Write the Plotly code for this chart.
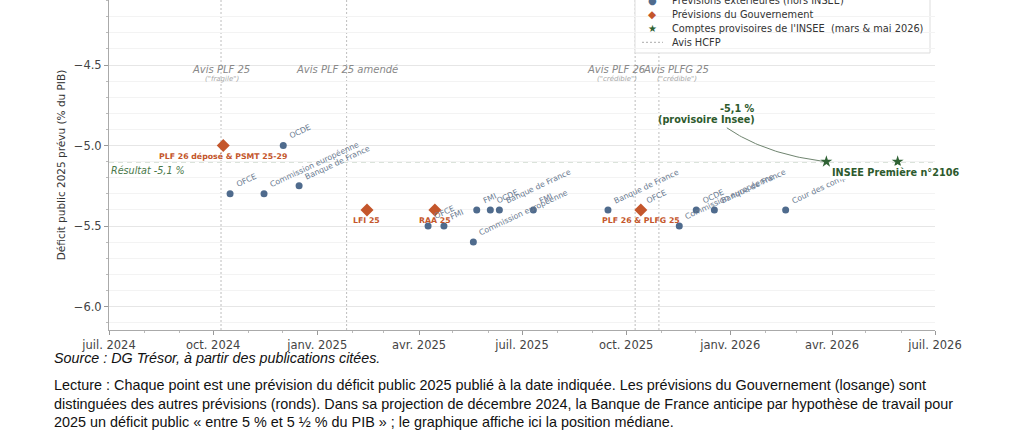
import numpy as np
import pandas as pd
import plotly.graph_objects as go

# ---------------- Data ----------------
ext_dates = ["2024-10-16", "2024-11-15", "2024-12-02", "2024-12-16",
             "2025-04-09", "2025-04-23", "2025-05-19", "2025-05-22",
             "2025-06-03", "2025-06-11", "2025-07-11", "2025-09-15",
             "2025-10-14", "2025-11-17", "2025-12-02", "2025-12-18",
             "2026-02-19"]
ext_values = [-5.3, -5.3, -5.0, -5.25,
              -5.5, -5.5, -5.6, -5.4,
              -5.4, -5.4, -5.4, -5.4,
              -5.4, -5.5, -5.4, -5.4,
              -5.4]
ext_labels = ["OFCE", "Commission européenne", "OCDE", "Banque de France",
              "OFCE", "FMI", "Commission européenne", "FMI",
              "OCDE", "Banque de France", "FMI", "Banque de France",
              "OFCE", "Commission européenne", "OCDE", "Banque de France",
              "Cour des comptes"]

gov_dates = ["2024-10-10", "2025-02-14", "2025-04-15", "2025-10-14"]
gov_values = [-5.0, -5.4, -5.4, -5.4]
gov_labels = ["PLF 26 déposé & PSMT 25-29", "LFI 25", "RAA 25", "PLF 26 & PLFG 25"]

insee_dates = ["2026-03-27", "2026-05-29"]
insee_values = [-5.1, -5.1]

hcfp_dates = ["2024-10-08", "2025-01-27", "2025-10-09", "2025-10-30"]
hcfp_labels = ["Avis PLF 25", "Avis PLF 25 amendé", "Avis PLF 26", "Avis PLFG 25"]
hcfp_notes = ['("fragile")', "", '("crédible")', '("crédible")']
hcfp_shift = [0, 0, -19, 17]

result_value = -5.1

tick_vals = ["2024-07-01", "2024-10-01", "2025-01-01", "2025-04-01", "2025-07-01",
             "2025-10-01", "2026-01-01", "2026-04-01", "2026-07-01"]
tick_text = ["juil. 2024", "oct. 2024", "janv. 2025", "avr. 2025", "juil. 2025",
             "oct. 2025", "janv. 2026", "avr. 2026", "juil. 2026"]
minor_vals = [d.strftime("%Y-%m-%d") for d in pd.date_range("2024-07-01", "2026-07-01", freq="MS")]

legend_labels = ["Prévisions extérieures (hors INSEE)", "Prévisions du Gouvernement",
                 "Comptes provisoires de l'INSEE \u00a0(mars & mai 2026)", "Avis HCFP"]

# ---------------- Styles ----------------
C_EXT = "#4f6b8d"
C_EXT_TXT = "#6b7b91"
C_GOV = "#c4562b"
C_INSEE = "#2f6234"
C_INSEE_TXT = "#2d5a2d"
C_HCFP = "#bdbdbd"
FONT = "DejaVu Sans"

L, R, T, B = 109, 89, 0, 112
W, H = 1024, 442
PW, PH = W - L - R, H - T - B


def px2x(px):
    return (px - L) / PW


def py2y(py):
    return (PH - (py - T)) / PH


fig = go.Figure()

# Curved connector from the INSEE label to the first provisional account
x0 = pd.Timestamp("2025-12-29").value
xc = pd.Timestamp("2026-02-02").value
x2 = pd.Timestamp(insee_dates[0]).value
y0c, ycc, y2c = -4.89, -5.058, insee_values[0]
t = np.linspace(0, 1, 40)
cx = (1 - t) ** 2 * x0 + 2 * (1 - t) * t * xc + t ** 2 * x2
cy = (1 - t) ** 2 * y0c + 2 * (1 - t) * t * ycc + t ** 2 * y2c
fig.add_trace(go.Scatter(x=pd.to_datetime(cx), y=cy, mode="lines",
                         line=dict(color="#6f846f", width=1), hoverinfo="skip",
                         showlegend=False))

fig.add_trace(go.Scatter(x=ext_dates, y=ext_values, mode="markers",
                         marker=dict(color=C_EXT, size=7, symbol="circle"),
                         name=legend_labels[0], text=ext_labels, showlegend=False))
fig.add_trace(go.Scatter(x=gov_dates, y=gov_values, mode="markers",
                         marker=dict(color=C_GOV, size=10, symbol="diamond"),
                         name=legend_labels[1], text=gov_labels, showlegend=False))
fig.add_trace(go.Scatter(x=insee_dates, y=insee_values, mode="markers",
                         marker=dict(color=C_INSEE, size=9, symbol="star"),
                         name=legend_labels[2], showlegend=False))

# HCFP vertical lines + labels
for d, lab, note, sh in zip(hcfp_dates, hcfp_labels, hcfp_notes, hcfp_shift):
    fig.add_shape(type="line", xref="x", yref="paper", x0=d, x1=d, y0=0, y1=1,
                  line=dict(color=C_HCFP, width=1, dash="2px,2px"), layer="between")
    fig.add_annotation(x=d, xref="x", y=py2y(69), yref="paper", text=f"<i>{lab}</i>",
                       showarrow=False, xshift=sh, xanchor="center", yanchor="middle",
                       font=dict(family=FONT, size=10, color="#888888"))
    if note:
        fig.add_annotation(x=d, xref="x", y=py2y(79), yref="paper", text=f"<i>{note}</i>",
                           showarrow=False, xshift=sh + 1, xanchor="center", yanchor="middle",
                           font=dict(family=FONT, size=7, color="#a8a8a8"))

# Result line
fig.add_shape(type="line", xref="paper", yref="y", x0=0, x1=1, y0=result_value, y1=result_value,
              line=dict(color="#6f8f6f", width=1.2, dash="5px,4px"), layer="between")
fig.add_annotation(x=0, xref="paper", y=result_value, yref="y",
                   text="<i>Résultat -5,1 %</i>", showarrow=False,
                   xanchor="left", yanchor="top", xshift=0, yshift=-1,
                   font=dict(family=FONT, size=9.6, color="#4a784a"))

# Labels of external forecasts
for d, v, lab in zip(ext_dates, ext_values, ext_labels):
    fig.add_annotation(x=d, y=v, text=lab, textangle=-25, showarrow=False,
                       xanchor="left", yanchor="bottom", xshift=2, yshift=2,
                       font=dict(family=FONT, size=7.8, color=C_EXT_TXT))

# Labels of government forecasts
for d, v, lab in zip(gov_dates, gov_values, gov_labels):
    fig.add_annotation(x=d, y=v, text=f"<b>{lab}</b>", showarrow=False,
                       xanchor="center", yanchor="top", yshift=-4,
                       font=dict(family=FONT, size=7.8, color=C_GOV))

# INSEE labels
fig.add_annotation(x=insee_dates[0], y=insee_values[0], text="<b>INSEE Première n°2106</b>",
                   showarrow=False, xanchor="left", yanchor="top", xshift=4, yshift=-3,
                   bgcolor="white", borderpad=1,
                   font=dict(family=FONT, size=9.7, color=C_INSEE_TXT))
fig.add_annotation(x="2026-01-25", y=-4.772, text="<b>-5,1 %</b>", showarrow=False,
                   xanchor="right", yanchor="middle",
                   font=dict(family=FONT, size=9.7, color=C_INSEE_TXT))
fig.add_annotation(x="2026-01-25", y=-4.840, text="<b>(provisoire Insee)</b>", showarrow=False,
                   xanchor="right", yanchor="middle",
                   font=dict(family=FONT, size=9.7, color=C_INSEE_TXT))

# Custom legend (compact); its top runs past the top edge, as in the reference crop
fig.add_shape(type="rect", xref="paper", yref="paper", x0=px2x(635), x1=px2x(930),
              y0=py2y(53), y1=py2y(-20), fillcolor="white",
              line=dict(color="#dddddd", width=1), layer="between")
rows = [0.3, 14.3, 28.3, 42.3]
symbols = [("●", C_EXT, 10), ("◆", C_GOV, 10.5), ("★", C_INSEE, 10)]
for (sym, col, sz), ry in zip(symbols, rows[:3]):
    fig.add_annotation(x=px2x(652), y=py2y(ry), xref="paper", yref="paper", text=sym,
                       showarrow=False, xanchor="center", yanchor="middle",
                       font=dict(family=FONT, size=sz, color=col))
fig.add_shape(type="line", xref="paper", yref="paper", x0=px2x(642), x1=px2x(663),
              y0=py2y(rows[3]), y1=py2y(rows[3]),
              line=dict(color="#aaaaaa", width=1, dash="2px,2px"))
for lab, ry in zip(legend_labels, rows):
    fig.add_annotation(x=px2x(670), y=py2y(ry), xref="paper", yref="paper", text=lab,
                       showarrow=False, xanchor="left", yanchor="middle",
                       font=dict(family=FONT, size=9.8, color="#333333"))

# Footer
FOOT = "Liberation Sans"
fig.add_annotation(x=px2x(52), y=py2y(358), xref="paper", yref="paper",
                   text="<i>Source : DG Trésor, à partir des publications citées.</i>",
                   showarrow=False, xanchor="left", yanchor="middle",
                   font=dict(family=FOOT, size=14.3, color="#111111"))
lecture = ["Lecture : Chaque point est une prévision du déficit public 2025 publié à la date indiquée. "
           "Les prévisions du Gouvernement (losange) sont",
           "distinguées des autres prévisions (ronds). Dans sa projection de décembre 2024, la Banque de "
           "France anticipe par hypothèse de travail pour",
           "2025 un déficit public « entre 5 % et 5 ½ % du PIB » ; le graphique affiche ici la position médiane."]
for line, py in zip(lecture, [385, 404, 422]):
    fig.add_annotation(x=px2x(52), y=py2y(py), xref="paper", yref="paper", text=line,
                       showarrow=False, xanchor="left", yanchor="middle",
                       font=dict(family=FOOT, size=14.4, color="#111111"))

fig.update_layout(
    width=W, height=H,
    margin=dict(l=L, r=R, t=T, b=B, autoexpand=False),
    plot_bgcolor="white", paper_bgcolor="white",
    font=dict(family=FONT, color="#333333"),
    showlegend=False,
)
fig.update_xaxes(
    type="date", range=["2024-07-01", "2026-07-01"],
    tickmode="array", tickvals=tick_vals, ticktext=tick_text,
    ticks="outside", ticklen=4, tickcolor="#999999",
    showline=True, linecolor="#aaaaaa", showgrid=False, zeroline=False,
    tickfont=dict(family=FONT, size=11.5, color="#444444"),
    minor=dict(tickmode="array", tickvals=minor_vals, ticks="outside", ticklen=2,
               tickcolor="#bbbbbb", showgrid=False),
)
fig.update_yaxes(
    range=[-6.146, -4.096], tick0=-6, dtick=0.5, tickformat=".1f",
    ticks="outside", ticklen=4, tickcolor="#999999",
    showline=True, linecolor="#aaaaaa", showgrid=True, gridcolor="#e6e6e6", zeroline=False,
    tickfont=dict(family=FONT, size=11.5, color="#444444"),
    minor=dict(tick0=-6, dtick=0.1, ticks="outside", ticklen=2, tickcolor="#bbbbbb",
               showgrid=True, gridcolor="#f3f3f3"),
    title=dict(text="Déficit public 2025 prévu (% du PIB)", standoff=6,
               font=dict(family=FONT, size=10.5, color="#333333")),
)

fig.write_html("out.html", config={"displayModeBar": False},
               post_script="document.body.style.margin='0';document.body.style.overflow='hidden';")
